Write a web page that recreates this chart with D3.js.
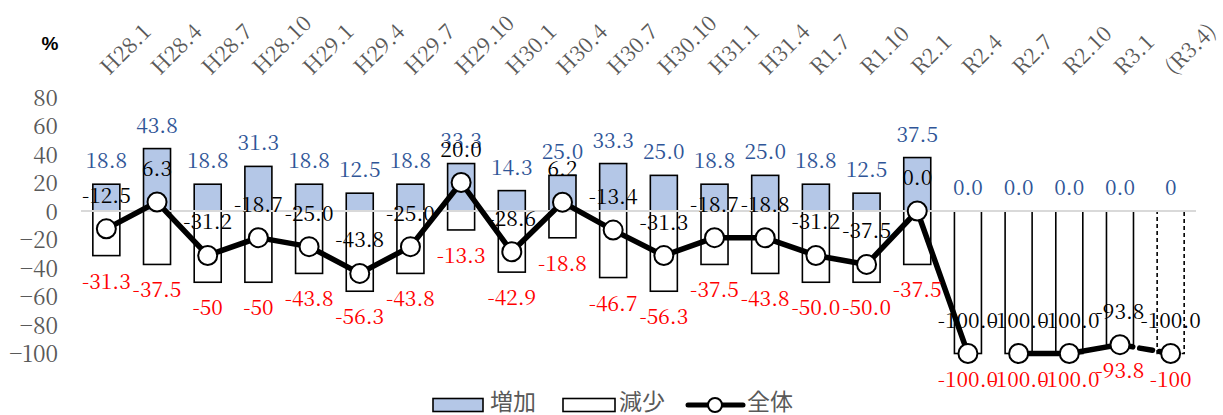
<!DOCTYPE html>
<html>
<head>
<meta charset="utf-8">
<script src="https://cdn.jsdelivr.net/npm/d3@7"></script>
<style>
  html, body { margin: 0; padding: 0; background: #fff; }
  svg { display: block; }
  .serif { font-family: "Noto Serif CJK JP", "Liberation Serif", serif; }
  .cjk { font-family: "Noto Sans CJK JP", "Noto Sans", sans-serif; }
</style>
</head>
<body>
<svg id="chart" width="1223" height="415"></svg>
<script>
// Survey periods (quarterly, Heisei → Reiwa); the last one is a forecast
const categories = ["H28.1", "H28.4", "H28.7", "H28.10", "H29.1", "H29.4", "H29.7", "H29.10",
  "H30.1", "H30.4", "H30.7", "H30.10", "H31.1", "H31.4", "R1.7", "R1.10",
  "R2.1", "R2.4", "R2.7", "R2.10", "R3.1", "(R3.4)"];

// Share answering "increase" (%)
const increaseLabels = ["18.8", "43.8", "18.8", "31.3", "18.8", "12.5", "18.8", "33.3",
  "14.3", "25.0", "33.3", "25.0", "18.8", "25.0", "18.8", "12.5",
  "37.5", "0.0", "0.0", "0.0", "0.0", "0"];

// Share answering "decrease" (%)
const decreaseLabels = ["-31.3", "-37.5", "-50", "-50", "-43.8", "-56.3", "-43.8", "-13.3",
  "-42.9", "-18.8", "-46.7", "-56.3", "-37.5", "-43.8", "-50.0", "-50.0",
  "-37.5", "-100.0", "-100.0", "-100.0", "-93.8", "-100"];

// Overall balance (increase minus decrease)
const overallLabels = ["-12.5", "6.3", "-31.2", "-18.7", "-25.0", "-43.8", "-25.0", "20.0",
  "-28.6", "6.2", "-13.4", "-31.3", "-18.7", "-18.8", "-31.2", "-37.5",
  "0.0", "-100.0", "-100.0", "-100.0", "-93.8", "-100.0"];

const yTicks = [80, 60, 40, 20, 0, -20, -40, -60, -80, -100];
const forecastCategories = ["(R3.4)"];   // drawn dashed
const lineBreakAfter = ["R2.4"];          // no connecting segment after these
const legendItems = ["増加", "減少", "全体"];

const increase = increaseLabels.map(Number);
const decrease = decreaseLabels.map(Number);
const overall = overallLabels.map(Number);

const svg = d3.select("#chart");
const gray = "#595959";

const x = d3.scaleBand().domain(categories).range([81, 1196]).padding(0);
const cx = c => x(c) + x.bandwidth() / 2;
const barW = x.bandwidth() * 0.533;
const y = d3.scaleLinear().domain([-100, 80]).range([353.5, 97]);

// "%" unit label
svg.append("text")
  .attr("x", 50).attr("y", 50)
  .attr("text-anchor", "middle")
  .style("font-family", "'Liberation Sans', Arial, sans-serif")
  .style("font-weight", "bold")
  .style("font-size", "19px")
  .attr("fill", "#000")
  .text("%");

// Y axis labels
const yAxis = d3.axisLeft(y).tickValues(yTicks).tickSize(0).tickPadding(0).tickFormat(d3.format("d"));
const gy = svg.append("g").attr("transform", "translate(58,0)").call(yAxis);
gy.attr("font-family", null).attr("font-size", null);
gy.select(".domain").remove();
gy.selectAll("text")
  .attr("class", "serif")
  .style("font-size", "22.5px")
  .attr("fill", gray)
  .attr("dy", "0.36em");

// Category labels along the top, rotated
svg.append("g").selectAll("text")
  .data(categories)
  .join("text")
  .attr("class", "serif")
  .attr("transform", d => `translate(${cx(d) + 3},76) rotate(-45)`)
  .style("font-size", "21.5px")
  .attr("fill", gray)
  .text(d => d);

const bars = svg.append("g");

// Decrease bars (white)
bars.selectAll("rect.dec")
  .data(categories)
  .join("rect")
  .attr("class", "dec")
  .attr("x", d => cx(d) - barW / 2)
  .attr("width", barW)
  .attr("y", y(0))
  .attr("height", (d, i) => y(decrease[i]) - y(0))
  .attr("fill", "#fff")
  .attr("stroke", "#000")
  .attr("stroke-width", 1.6)
  .attr("stroke-dasharray", d => forecastCategories.includes(d) ? "4,3" : null);

// Increase bars (blue)
bars.selectAll("rect.inc")
  .data(categories)
  .join("rect")
  .attr("class", "inc")
  .attr("x", d => cx(d) - barW / 2)
  .attr("width", barW)
  .attr("y", (d, i) => y(increase[i]))
  .attr("height", (d, i) => y(0) - y(increase[i]))
  .attr("fill", "#B4C7E7")
  .attr("stroke", "#000")
  .attr("stroke-width", 1.6)
  .attr("stroke-dasharray", d => forecastCategories.includes(d) ? "4,3" : null);

// Zero line
svg.append("line")
  .attr("x1", 81).attr("x2", 1196)
  .attr("y1", y(0)).attr("y2", y(0))
  .attr("stroke", "#D9D9D9")
  .attr("stroke-width", 2);

// Overall line, one segment per neighbouring pair
const segments = d3.pairs(categories.map((c, i) => ({ c, v: overall[i] })))
  .filter(([a]) => !lineBreakAfter.includes(a.c));
svg.append("g").selectAll("line")
  .data(segments)
  .join("line")
  .attr("x1", d => cx(d[0].c)).attr("y1", d => y(d[0].v))
  .attr("x2", d => cx(d[1].c)).attr("y2", d => y(d[1].v))
  .attr("stroke", "#000")
  .attr("stroke-width", 5.5)
  .attr("stroke-linecap", "round")
  .attr("stroke-dasharray", d => forecastCategories.includes(d[1].c) ? "13,7" : null);

svg.append("g").selectAll("circle")
  .data(categories)
  .join("circle")
  .attr("cx", d => cx(d))
  .attr("cy", (d, i) => y(overall[i]))
  .attr("r", 9.5)
  .attr("fill", "#fff")
  .attr("stroke", "#000")
  .attr("stroke-width", 2);

// Data labels
const labels = svg.append("g")
  .attr("text-anchor", "middle");

function labelSet(cls, texts, posY, color) {
  labels.selectAll("text." + cls)
    .data(categories)
    .join("text")
    .attr("class", "serif " + cls)
    .style("font-size", "21px")
    .attr("x", d => cx(d))
    .attr("y", posY)
    .attr("fill", color)
    .text((d, i) => texts[i]);
}

labelSet("inc", increaseLabels, (d, i) => y(Math.max(increase[i], 0)) - 16, "#2F5597");
labelSet("dec", decreaseLabels, (d, i) => y(decrease[i]) + 33, "#FF0000");
labelSet("all", overallLabels, (d, i) => y(overall[i]) - 26, "#000");

// Legend
const lg = svg.append("g")
  .attr("class", "cjk")
  .style("font-size", "23px")
  .attr("fill", gray);
const ly = 405;
const ty = 410;

lg.append("rect").attr("x", 433).attr("y", ly - 6.5).attr("width", 50).attr("height", 13)
  .attr("fill", "#B4C7E7").attr("stroke", "#000").attr("stroke-width", 1.6);
lg.append("text").attr("x", 490).attr("y", ty).text(legendItems[0]);

lg.append("rect").attr("x", 563).attr("y", ly - 6.5).attr("width", 52).attr("height", 13)
  .attr("fill", "#fff").attr("stroke", "#000").attr("stroke-width", 1.6);
lg.append("text").attr("x", 619).attr("y", ty).text(legendItems[1]);

lg.append("line").attr("x1", 688).attr("x2", 743).attr("y1", ly).attr("y2", ly)
  .attr("stroke", "#000").attr("stroke-width", 5).attr("stroke-linecap", "round");
lg.append("circle").attr("cx", 715).attr("cy", ly).attr("r", 7)
  .attr("fill", "#fff").attr("stroke", "#000").attr("stroke-width", 2);
lg.append("text").attr("x", 747).attr("y", ty).text(legendItems[2]);
</script>
</body>
</html>
